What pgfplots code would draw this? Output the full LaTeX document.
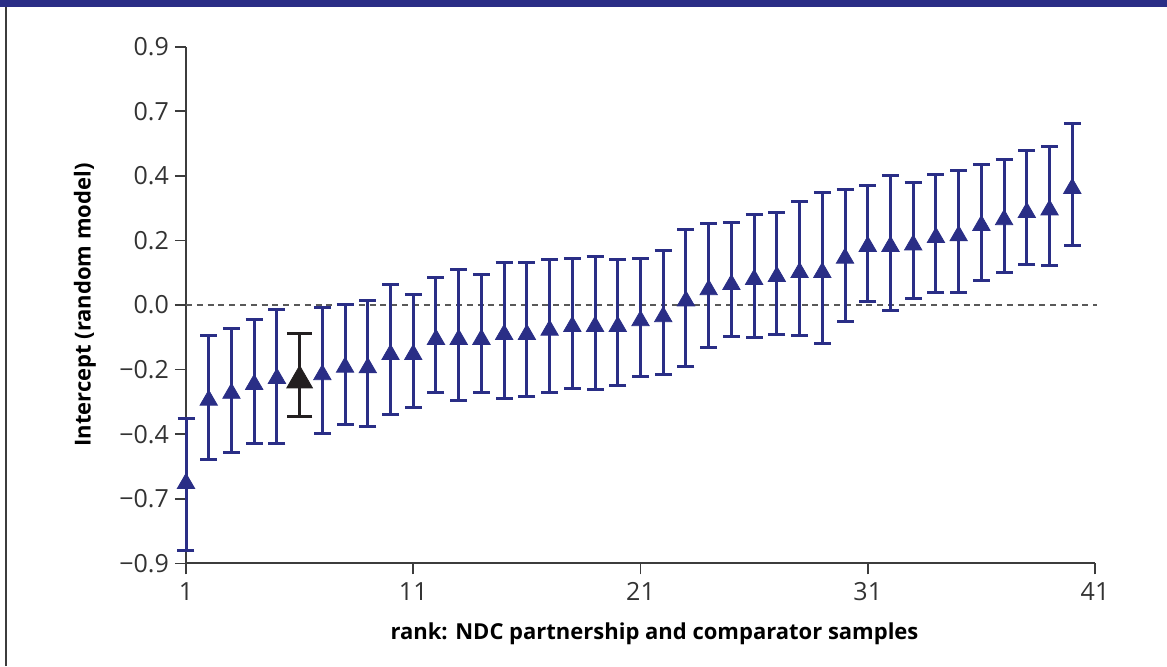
\documentclass[border=0pt]{standalone}
\usepackage{pgfplots}
\pgfplotsset{compat=1.18}
\usepackage{pgfplotstable}
\usepackage{fontspec}
\setmainfont{Open Sans}
\definecolor{navy}{RGB}{42,46,134}
\definecolor{axgray}{RGB}{60,60,60}
\definecolor{tickgray}{RGB}{51,51,51}
\definecolor{blk}{RGB}{35,31,32}

\pgfplotstableread{
x m lo hi
1 -0.613 -0.854 -0.395
2 -0.323 -0.537 -0.105
3 -0.299 -0.513 -0.081
4 -0.268 -0.482 -0.051
5 -0.247 -0.482 -0.015
7 -0.234 -0.449 -0.008
8 -0.208 -0.416 0.002
9 -0.210 -0.422 0.014
10 -0.164 -0.383 0.070
11 -0.164 -0.356 0.038
12 -0.111 -0.306 0.095
13 -0.111 -0.331 0.124
14 -0.111 -0.306 0.105
15 -0.094 -0.325 0.149
16 -0.094 -0.319 0.149
17 -0.079 -0.304 0.157
18 -0.066 -0.290 0.163
19 -0.066 -0.296 0.168
20 -0.066 -0.279 0.159
21 -0.046 -0.250 0.163
22 -0.032 -0.241 0.189
23 0.023 -0.215 0.264
24 0.062 -0.149 0.285
25 0.080 -0.110 0.287
26 0.098 -0.113 0.314
27 0.108 -0.102 0.323
28 0.122 -0.105 0.360
29 0.122 -0.133 0.391
30 0.172 -0.058 0.401
31 0.213 0.011 0.415
32 0.213 -0.018 0.452
33 0.218 0.023 0.426
34 0.244 0.043 0.456
35 0.250 0.043 0.470
36 0.286 0.087 0.491
37 0.306 0.114 0.508
38 0.331 0.142 0.538
39 0.340 0.139 0.552
40 0.415 0.206 0.631
}\bluedata

\pgfplotstableread{
x m lo hi
6 -0.250 -0.389 -0.099
}\blackdata

\begin{document}
\begin{tikzpicture}
\path[use as bounding box] (0,0) rectangle (583.5pt,333pt);
\fill[navy] (0,329.5pt) rectangle (583.5pt,333pt);
\draw[axgray, line width=0.8pt] (3pt,0) -- (3pt,329.5pt);
\begin{axis}[
  at={(93pt,51.35pt)}, anchor=south west,
  scale only axis, width=454.5pt, height=258.3pt,
  xmin=1, xmax=41, ymin=-0.9, ymax=0.9,
  axis x line*=bottom, axis y line*=left,
  axis line style={axgray, line width=1pt},
  xtick={1,11,21,31,41},
  xticklabels={1,11,21,31,41},
  ytick={-0.9,-0.675,-0.45,-0.225,0,0.225,0.45,0.675,0.9},
  yticklabels={−0.9,−0.7,−0.4,−0.2,0.0,0.2,0.4,0.7,0.9},
  tick align=outside, major tick length=5.5pt,
  tick style={axgray, line width=0.8pt},
  ticklabel style={font=\fontsize{12.5}{14}\selectfont, text=tickgray},
  xticklabel style={yshift=-0.5pt},
  yticklabel style={xshift=0.5pt},
  xlabel={rank: NDC partnership and comparator samples},
  ylabel={Intercept (random model)},
  label style={font=\bfseries\fontsize{11}{13}\selectfont, text=black},
  xlabel style={at={(axis description cs:0.5154,-0.1369)}, anchor=center},
  ylabel style={at={(axis description cs:-0.1111,0.5)}, anchor=center},
  clip=false,
]
\addplot[axgray!85, dash pattern=on 3pt off 2.4pt, line width=0.7pt, forget plot]
  coordinates {(1,0) (41.1,0)};
\addplot[only marks, mark=triangle*, mark size=5pt, color=navy,
  mark options={yshift=-1.25pt, fill=navy, draw=navy},
  error bars/.cd, y dir=both, y explicit,
  error bar style={line width=1.5pt, navy},
  error mark options={rotate=90, mark size=4.25pt, line width=1.5pt, navy}]
  table[x=x, y=m, y error plus expr=\thisrow{hi}-\thisrow{m}, y error minus expr=\thisrow{m}-\thisrow{lo}] {\bluedata};
\addplot[only marks, mark=triangle*, mark size=7.4pt, color=blk,
  mark options={yshift=-1.85pt, fill=blk, draw=blk},
  error bars/.cd, y dir=both, y explicit,
  error bar style={line width=1.5pt, blk},
  error mark options={rotate=90, mark size=6.4pt, line width=1.5pt, blk}]
  table[x=x, y=m, y error plus expr=\thisrow{hi}-\thisrow{m}, y error minus expr=\thisrow{m}-\thisrow{lo}] {\blackdata};
\end{axis}
\end{tikzpicture}
\end{document}
